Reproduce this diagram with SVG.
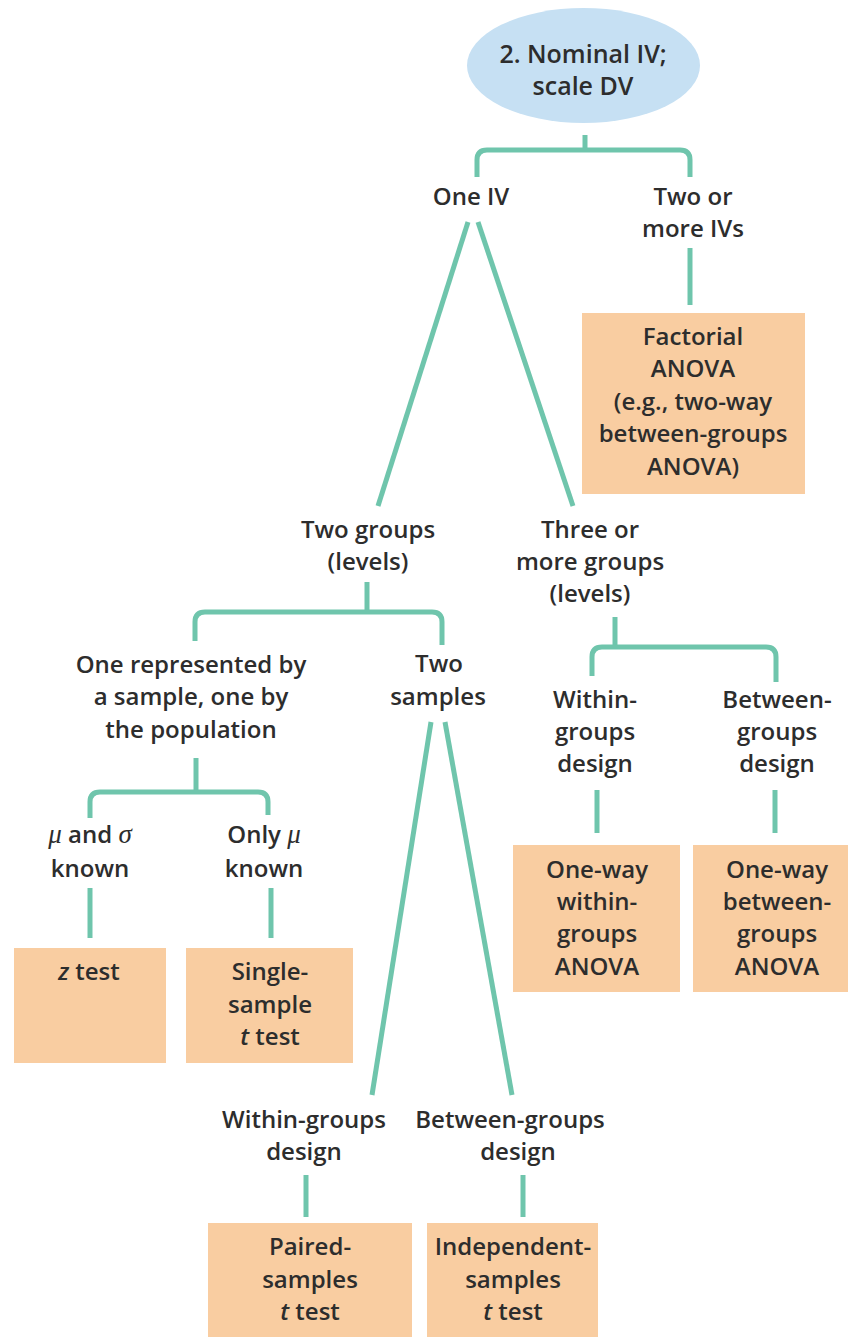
<svg xmlns="http://www.w3.org/2000/svg" width="849" height="1337" viewBox="0 0 849 1337">
<style>
.t{font-family:"Open Sans","Noto Sans","Liberation Sans",sans-serif;font-size:24px;font-weight:600;fill:#2d2d2d;text-anchor:middle}
.big{font-size:25px}
.i{font-style:italic}
.g{font-family:"Liberation Serif","DejaVu Serif",serif;font-style:italic;font-weight:400;font-size:27px}
.box{fill:#f9cda1}
.c{fill:none;stroke:#6fc5ac;stroke-width:5;stroke-linecap:butt}
</style>
<rect width="849" height="1337" fill="#ffffff"/>
<g id="connectors">
<path class="c" d="M585,135 V150"/>
<path class="c" d="M477,177 V160 Q477,150 487,150 H680 Q690,150 690,160 V177"/>
<path class="c" d="M690,248 V305"/>
<path class="c" d="M468,222 L378,506"/>
<path class="c" d="M478,222 L573,506"/>
<path class="c" d="M367,582 V612"/>
<path class="c" d="M195,641 V622 Q195,612 205,612 H432 Q442,612 442,622 V645"/>
<path class="c" d="M615,617 V647"/>
<path class="c" d="M592,676 V657 Q592,647 602,647 H766 Q776,647 776,657 V682"/>
<path class="c" d="M196,758 V792"/>
<path class="c" d="M90,818 V802 Q90,792 100,792 H258 Q268,792 268,802 V815"/>
<path class="c" d="M90,888 V938"/>
<path class="c" d="M271,888 V938"/>
<path class="c" d="M597,790 V833"/>
<path class="c" d="M775,790 V833"/>
<path class="c" d="M431,722 L372,1095"/>
<path class="c" d="M445,722 L512,1095"/>
<path class="c" d="M306,1175 V1217"/>
<path class="c" d="M523,1175 V1217"/>
</g>
<g id="root">
<ellipse cx="583.5" cy="65.5" rx="116.5" ry="57.5" fill="#c6e0f3"/>
<text class="t big" x="583" y="63">2. Nominal IV;</text>
<text class="t big" x="583" y="95">scale DV</text>
</g>
<g id="one-iv">
<text class="t" x="471" y="205">One IV</text>
</g>
<g id="two-or-more-ivs">
<text class="t" x="693" y="205">Two or</text>
<text class="t" x="693" y="237">more IVs</text>
</g>
<g id="factorial-anova">
<rect class="box" x="582" y="313" width="223" height="181"/>
<text class="t" x="693" y="345">Factorial</text>
<text class="t" x="693" y="377">ANOVA</text>
<text class="t" x="693" y="410">(e.g., two-way</text>
<text class="t" x="693" y="442">between-groups</text>
<text class="t" x="693" y="475">ANOVA)</text>
</g>
<g id="two-groups">
<text class="t" x="368" y="538">Two groups</text>
<text class="t" x="368" y="570">(levels)</text>
</g>
<g id="three-or-more-groups">
<text class="t" x="590" y="538">Three or</text>
<text class="t" x="590" y="570">more groups</text>
<text class="t" x="590" y="602">(levels)</text>
</g>
<g id="sample-vs-population">
<text class="t" x="191" y="673">One represented by</text>
<text class="t" x="191" y="705">a sample, one by</text>
<text class="t" x="191" y="738">the population</text>
</g>
<g id="two-samples">
<text class="t" x="439" y="672">Two</text>
<text class="t" x="438" y="705">samples</text>
</g>
<g id="within-groups-design-3">
<text class="t" x="595" y="708">Within-</text>
<text class="t" x="595" y="740">groups</text>
<text class="t" x="595" y="772">design</text>
</g>
<g id="between-groups-design-3">
<text class="t" x="777" y="708">Between-</text>
<text class="t" x="777" y="740">groups</text>
<text class="t" x="777" y="772">design</text>
</g>
<g id="mu-sigma-known">
<text class="t" x="90" y="843"><tspan class="g">μ</tspan> and <tspan class="g">σ</tspan></text>
<text class="t" x="90" y="877">known</text>
</g>
<g id="only-mu-known">
<text class="t" x="264" y="843">Only <tspan class="g">μ</tspan></text>
<text class="t" x="264" y="877">known</text>
</g>
<g id="z-test">
<rect class="box" x="14" y="948" width="152" height="115"/>
<text class="t" x="89" y="980"><tspan class="i">z</tspan> test</text>
</g>
<g id="single-sample-t-test">
<rect class="box" x="186" y="948" width="167" height="115"/>
<text class="t" x="270" y="980">Single-</text>
<text class="t" x="270" y="1013">sample</text>
<text class="t" x="270" y="1045"><tspan class="i">t</tspan> test</text>
</g>
<g id="one-way-within-anova">
<rect class="box" x="513" y="845" width="167" height="147"/>
<text class="t" x="597" y="878">One-way</text>
<text class="t" x="597" y="910">within-</text>
<text class="t" x="597" y="942">groups</text>
<text class="t" x="597" y="975">ANOVA</text>
</g>
<g id="one-way-between-anova">
<rect class="box" x="693" y="845" width="155" height="147"/>
<text class="t" x="777" y="878">One-way</text>
<text class="t" x="777" y="910">between-</text>
<text class="t" x="777" y="942">groups</text>
<text class="t" x="777" y="975">ANOVA</text>
</g>
<g id="within-groups-design-2">
<text class="t" x="304" y="1128">Within-groups</text>
<text class="t" x="304" y="1160">design</text>
</g>
<g id="between-groups-design-2">
<text class="t" x="510" y="1128">Between-groups</text>
<text class="t" x="518" y="1160">design</text>
</g>
<g id="paired-samples-t-test">
<rect class="box" x="208" y="1223" width="204" height="114"/>
<text class="t" x="310" y="1255">Paired-</text>
<text class="t" x="310" y="1288">samples</text>
<text class="t" x="310" y="1320"><tspan class="i">t</tspan> test</text>
</g>
<g id="independent-samples-t-test">
<rect class="box" x="427" y="1223" width="171" height="114"/>
<text class="t" x="513" y="1255">Independent-</text>
<text class="t" x="513" y="1288">samples</text>
<text class="t" x="513" y="1320"><tspan class="i">t</tspan> test</text>
</g>
</svg>
